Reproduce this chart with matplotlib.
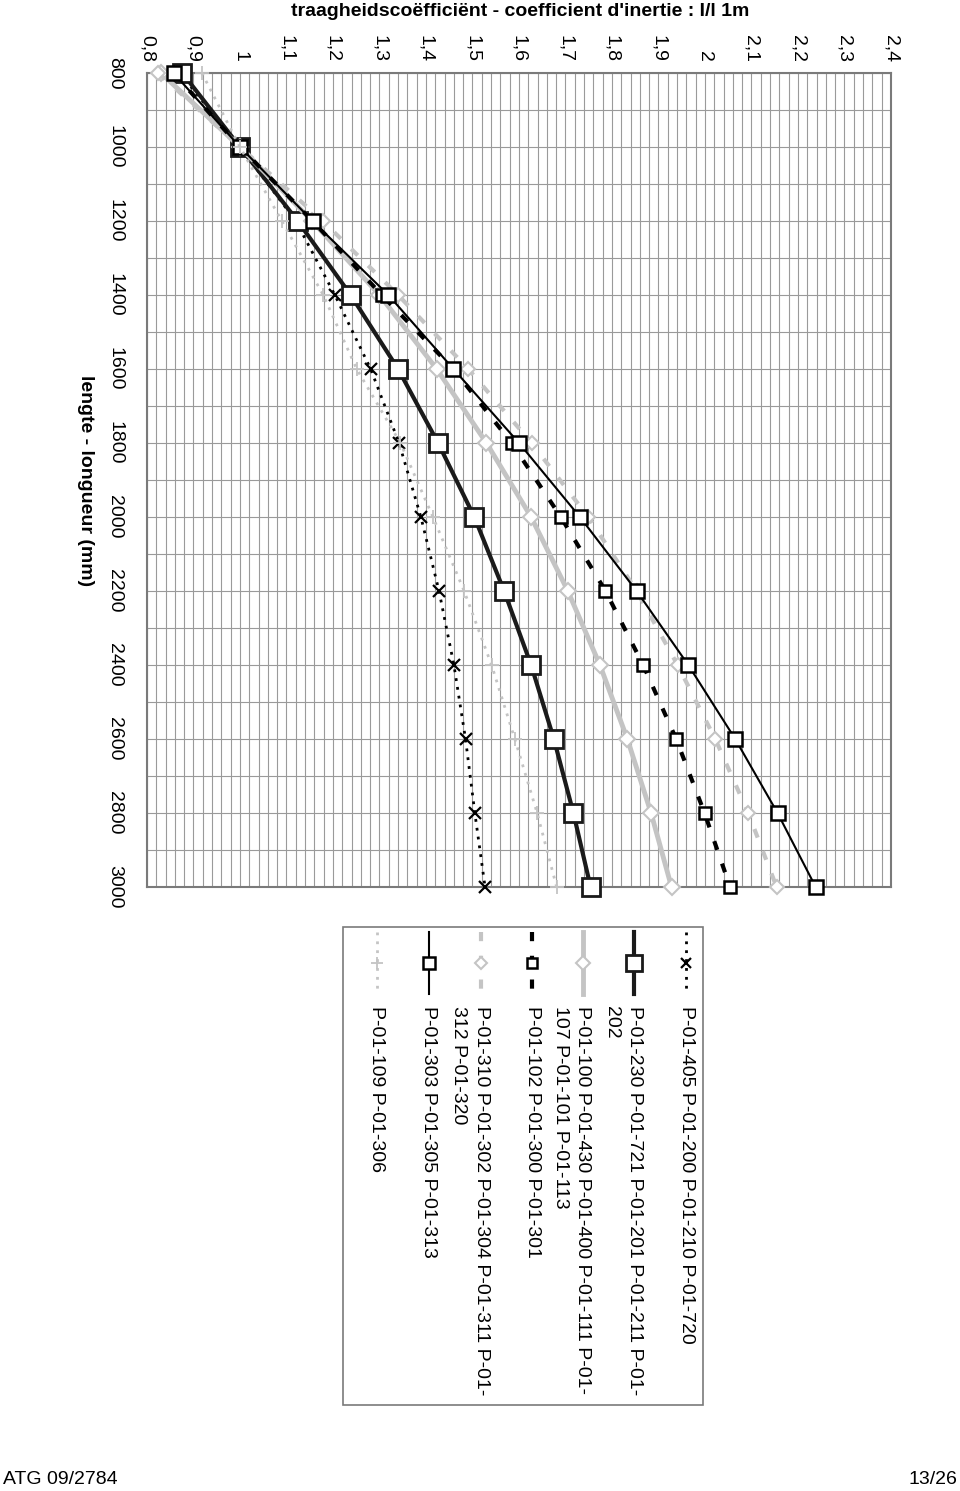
import matplotlib
matplotlib.use("Agg")
import matplotlib.pyplot as plt
from matplotlib.lines import Line2D
import numpy as np

plt.rcParams['font.family'] = ['Liberation Sans', 'DejaVu Sans']

# ---------------- data ----------------
lengths = [800, 1000, 1200, 1400, 1600, 1800, 2000, 2200, 2400, 2600, 2800, 3000]

s405 = [0.870, 1.000, 1.120, 1.204, 1.281, 1.342, 1.389, 1.428, 1.460, 1.485, 1.505, 1.527]
s230 = [0.876, 1.000, 1.124, 1.238, 1.340, 1.426, 1.504, 1.568, 1.626, 1.675, 1.717, 1.754]
s100 = [0.830, 1.000, 1.155, 1.300, 1.423, 1.530, 1.626, 1.705, 1.774, 1.833, 1.884, 1.928]
s102 = [0.857, 1.000, 1.156, 1.305, 1.459, 1.584, 1.690, 1.786, 1.867, 1.938, 1.999, 2.054]
s310 = [0.824, 1.000, 1.178, 1.340, 1.491, 1.627, 1.749, 1.853, 1.941, 2.022, 2.093, 2.154]
s303 = [0.857, 1.000, 1.156, 1.319, 1.459, 1.600, 1.731, 1.853, 1.964, 2.065, 2.156, 2.238]
s109 = [0.918, 1.000, 1.090, 1.179, 1.251, 1.345, 1.415, 1.482, 1.541, 1.591, 1.639, 1.681]

labels = [
    ["P-01-405 P-01-200 P-01-210 P-01-720"],
    ["P-01-230 P-01-721 P-01-201 P-01-211 P-01-", "202"],
    ["P-01-100 P-01-430 P-01-400 P-01-111 P-01-", "107 P-01-101 P-01-113"],
    ["P-01-102 P-01-300 P-01-301"],
    ["P-01-310 P-01-302 P-01-304 P-01-311 P-01-", "312 P-01-320"],
    ["P-01-303 P-01-305 P-01-313"],
    ["P-01-109 P-01-306"],
]

coef_ticks = [0.8, 0.9, 1.0, 1.1, 1.2, 1.3, 1.4, 1.5, 1.6, 1.7, 1.8, 1.9, 2.0, 2.1, 2.2, 2.3, 2.4]
coef_labels = ["0,8", "0,9", "1", "1,1", "1,2", "1,3", "1,4", "1,5", "1,6", "1,7", "1,8",
               "1,9", "2", "2,1", "2,2", "2,3", "2,4"]
len_ticks = [800, 1000, 1200, 1400, 1600, 1800, 2000, 2200, 2400, 2600, 2800, 3000]

title = "traagheidscoëfficiënt - coefficient d'inertie : I/l 1m"
xlabel = "lengte - longueur (mm)"

# ---------------- styles ----------------
GREY = '#c4c4c4'
styles = [
    dict(color='black', lw=2.0, ls=(0, (1, 2.2)), marker='x', ms=9, mew=1.6, mfc='none', mec='black'),
    dict(color='#1a1a1a', lw=3.0, ls='-', marker='s', ms=13, mew=2.0, mfc='white', mec='#1a1a1a'),
    dict(color=GREY, lw=3.5, ls='-', marker='D', ms=8, mew=1.5, mfc='white', mec=GREY),
    dict(color='black', lw=3.0, ls=(0, (2.2, 3.5)), marker='s', ms=9, mew=1.8, mfc='white', mec='black'),
    dict(color=GREY, lw=3.0, ls=(0, (2.2, 3.5)), marker='D', ms=7, mew=1.5, mfc='white', mec=GREY),
    dict(color='black', lw=1.5, ls='-', marker='s', ms=10, mew=1.8, mfc='white', mec='black'),
    dict(color=GREY, lw=2.0, ls=(0, (1, 2.2)), marker='+', ms=10, mew=1.3, mfc='none', mec=GREY),
]
series = [s405, s230, s100, s102, s310, s303, s109]

W, H = 960, 1491
fig = plt.figure(figsize=(W / 100, H / 100), dpi=100)
L, R, T, B = 147, 891, 73, 887
ax = fig.add_axes([L / W, 1 - B / H, (R - L) / W, (B - T) / H])

for vals, st in zip(series, styles):
    ax.plot(vals, lengths, color=st['color'], lw=st['lw'], ls=st['ls'], marker=st['marker'],
            ms=st['ms'], mew=st['mew'], mfc=st['mfc'], mec=st['mec'], zorder=3, clip_on=False)

ax.set_xlim(0.8, 2.4)
ax.set_ylim(3000, 800)
ax.set_xticks(coef_ticks)
ax.set_xticklabels(coef_labels, rotation=-90)
ax.set_xticks(np.arange(0.8, 2.4001, 0.02), minor=True)
ax.set_yticks(len_ticks)
ax.set_yticklabels([str(v) for v in len_ticks], rotation=-90, va='center')
ax.set_yticks(np.arange(800, 3001, 100), minor=True)
ax.xaxis.tick_top()
ax.tick_params(axis='x', which='both', length=0, pad=8, labelsize=14)
ax.tick_params(axis='y', which='both', length=0, pad=17, labelsize=14)
ax.grid(True, which='both', color='#9a9a9a', lw=0.8)
ax.set_axisbelow(True)
for sp in ax.spines.values():
    sp.set_color('#7a7a7a')
    sp.set_linewidth(1.5)

fig.text(520 / W, 1 - 12 / H, title, ha='center', va='center', fontsize=14, fontweight='bold')
fig.text(85 / W, 1 - 481 / H, xlabel, rotation=-90, ha='center', va='center',
         fontsize=14, fontweight='bold')

# ---------------- legend (rotated) ----------------
box_l, box_r, box_t, box_b = 343, 703, 927, 1405
fig.add_artist(plt.Rectangle((box_l / W, 1 - box_b / H), (box_r - box_l) / W, (box_b - box_t) / H,
                             transform=fig.transFigure, fill=False, ec='#7a7a7a', lw=1.2))
entry_x = [686, 634, 583, 532, 481, 429, 377]
for xc, st, lab in zip(entry_x, styles, labels):
    ln = Line2D([xc / W, xc / W], [1 - 932 / H, 1 - 994 / H], transform=fig.transFigure,
                color=st['color'], lw=st['lw'], ls=st['ls'])
    fig.add_artist(ln)
    mk = Line2D([xc / W], [1 - 963 / H], transform=fig.transFigure, ls='none',
                marker=st['marker'], ms=st['ms'] * 0.85, mew=st['mew'], mfc=st['mfc'], mec=st['mec'])
    fig.add_artist(mk)
    for i, line in enumerate(lab):
        fig.text((xc - 23 * i) / W, 1 - 1006 / H, line, rotation=-90, rotation_mode='anchor',
                 ha='left', va='center', fontsize=14)

fig.text(3 / W, 1 - 1479 / H, "ATG 09/2784", ha='left', va='center', fontsize=14)
fig.text(957 / W, 1 - 1479 / H, "13/26", ha='right', va='center', fontsize=14)

fig.savefig("out.png", dpi=100)
